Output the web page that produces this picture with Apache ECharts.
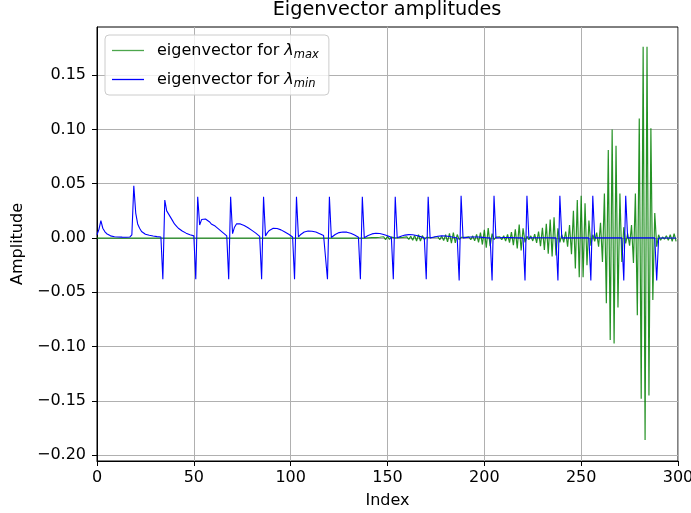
<!DOCTYPE html>
<html>
<head>
<meta charset="utf-8">
<script src="https://cdn.jsdelivr.net/npm/echarts@6/dist/echarts.min.js"></script>
<style>
  html, body { margin: 0; padding: 0; background: #ffffff; }
  #chart { width: 691px; height: 513px; }
</style>
</head>
<body>
<div id="chart"></div>
<script>
// Tick positions on both axes
const xTicks = [0, 50, 100, 150, 200, 250, 300];
const yTicks = [-0.20, -0.15, -0.10, -0.05, 0.00, 0.05, 0.10, 0.15];

// Eigenvector belonging to the largest eigenvalue (entries 0..299)
const maxVec = [
  0, 0, 0, 0, 0, 0, 0, 0, 0, 0,
  0, 0, 0, 0, 0, 0, 0, 0, 0, 0,
  0, 0, 0, 0, 0, 0, 0, 0, 0, 0,
  0, 0, 0, 0, 0, 0, 0, 0, 0, 0,
  0, 0, 0, 0, 0, 0, 0, 0, 0, 0,
  0, 0, 0, 0, 0, 0, 0, 0, 0, 0,
  0, 0, 0, 0, 0, 0, 0, 0, 0, 0,
  0, 0, 0, 0, 0, 0, 0, 0, 0, 0,
  0, 0, 0, 0, 0, 0, 0, 0, 0, 0,
  0, 0, 0, 0, 0, 0, 0, 0, 0, 0,
  0, 0, 0, 0, 0, 0, 0, 0, 0, 0,
  0, 0, 0, 0, 0, 0, 0, 0, 0, 0,
  0, 0, 0, 0, 0, 0, 0, 0, 0, 0,
  0, 0, 0, 0, 0, 0, 0, 0, 0, 0,
  0.0002, -0.0002, 0.0003, -0.0003, 0.0004, -0.0005, 0.0007, -0.0009, 0.0012, -0.0015,
  0.0015, -0.0012, 0.0008, -0.0004, 0.0002, -0.0002, 0.0003, -0.0004, 0.0006, -0.0008,
  0.001, -0.0013, 0.0016, -0.002, 0.0024, -0.0028, 0.003, -0.0028, 0.0022, -0.0014,
  0.0007, -0.0003, 0.0004, -0.0005, 0.0007, -0.0009, 0.0012, -0.0015, 0.0019, -0.0024,
  0.003, -0.0036, 0.0043, -0.0048, 0.005, -0.0045, 0.0032, -0.0015, 0.0006, -0.0005,
  0.0007, -0.0009, 0.0012, -0.0016, 0.002, -0.0026, 0.0033, -0.0041, 0.005, -0.006,
  0.0075, -0.0088, 0.0092, -0.0075, 0.004, -0.0015, 0.0008, -0.0009, 0.0012, -0.0016,
  0.0021, -0.0027, 0.0034, -0.0043, 0.0054, -0.0066, 0.008, -0.0095, 0.0125, -0.0115,
  0.009, -0.004, 0.0015, -0.0015, 0.002, -0.0027, 0.0035, -0.0045, 0.006, -0.0075,
  0.0095, -0.011, 0.013, -0.0145, 0.017, -0.017, 0.019, -0.016, 0.009, -0.004,
  0.003, -0.004, 0.006, -0.008, 0.012, -0.015, 0.025, -0.028, 0.035, -0.036,
  0.039, -0.036, 0.032, -0.025, 0.016, -0.007, 0.003, -0.003, 0.005, -0.008,
  0.014, -0.022, 0.041, -0.060, 0.081, -0.094, 0.100, -0.097, 0.085, -0.064,
  0.041, -0.022, 0.010, -0.005, 0.004, -0.007, 0.012, -0.023, 0.041, -0.071,
  0.110, -0.148, 0.176, -0.186, 0.176, -0.145, 0.101, -0.057, 0.023, -0.008,
  0.003, -0.002, 0.001, -0.001, 0.002, -0.002, 0.003, -0.003, 0.004, -0.003
];

// Eigenvector belonging to the smallest eigenvalue (entries 0..299)
const minVec = [
  0.003, 0.008, 0.016, 0.009, 0.006, 0.004, 0.003, 0.002, 0.0015, 0.0012,
  0.001, 0.001, 0.0008, 0.0008, 0.0007, 0.0007, 0.0006, 0.001, 0.003, 0.048,
  0.023, 0.013, 0.009, 0.006, 0.0045, 0.0035, 0.003, 0.0025, 0.002, 0.0018,
  0.0015, 0.0013, 0.0012, 0.001, -0.038, 0.035, 0.025, 0.024, 0.019, 0.016,
  0.013, 0.011, 0.009, 0.008, 0.0065, 0.0055, 0.0045, 0.004, 0.003, 0.0025,
  0.002, -0.038, 0.038, 0.012, 0.017, 0.018, 0.0175, 0.016, 0.015, 0.013,
  0.012, 0.011, 0.0095, 0.008, 0.0065, 0.005, 0.0035, 0.002, -0.038, 0.038,
  0.004, 0.010, 0.013, 0.0135, 0.013, 0.0125, 0.0115, 0.0105, 0.0095, 0.0085,
  0.007, 0.006, 0.0045, 0.003, 0.0015, -0.038, 0.038, 0.002, 0.005, 0.007,
  0.0085, 0.009, 0.009, 0.0088, 0.0082, 0.0075, 0.0065, 0.0055, 0.0045, 0.0035,
  0.0022, 0.001, -0.038, 0.038, 0.001, 0.003, 0.0045, 0.0055, 0.0062, 0.0065,
  0.0065, 0.0063, 0.006, 0.0055, 0.0048, 0.004, 0.0032, 0.0023, 0.0012, -0.038,
  0.038, 0.0005, 0.002, 0.0033, 0.0043, 0.005, 0.0054, 0.0056, 0.0056, 0.0054,
  0.005, 0.0044, 0.0037, 0.0028, 0.0018, 0.0008, -0.038, 0.038, 0.0003, 0.0014,
  0.0024, 0.0032, 0.0038, 0.0042, 0.0044, 0.0044, 0.0042, 0.0038, 0.0033, 0.0027,
  0.002, 0.0013, 0.0006, -0.038, 0.038, 0.0002, 0.001, 0.0017, 0.0023, 0.0027,
  0.003, 0.0031, 0.0031, 0.003, 0.0027, 0.0023, 0.0018, 0.0013, 0.0008, 0.0003,
  -0.038, 0.038, 0.0001, 0.0006, 0.001, 0.0014, 0.0017, 0.0019, 0.002, 0.002,
  0.0019, 0.0017, 0.0014, 0.001, 0.0007, 0.0004, 0.0001, -0.039, 0.039, 0.0001,
  0.0003, 0.0005, 0.0007, 0.0009, 0.001, 0.001, 0.001, 0.0009, 0.0008, 0.0006,
  0.0005, 0.0003, 0.0002, 0.0001, -0.039, 0.039, 0.0001, 0.0002, 0.0003, 0.0004,
  0.0005, 0.0005, 0.0005, 0.0005, 0.0004, 0.0004, 0.0003, 0.0002, 0.0001, 0.0001,
  0.0001, -0.039, 0.039, 0.0001, 0.0002, 0.0002, 0.0003, 0.0003, 0.0003, 0.0003,
  0.0003, 0.0002, 0.0002, 0.0002, 0.0001, 0.0001, 0.0001, 0.0001, -0.039, 0.039,
  0.0001, 0.0001, 0.0001, 0.0001, 0.0001, 0.0001, 0.0001, 0.0001, 0.0001, 0.0001,
  0.0001, 0.0001, 0.0001, 0.0001, 0.0001, -0.039, 0.039, 0.0001, 0.0001, 0.0001,
  0.0001, 0.0001, 0.0001, 0.0001, 0.0001, 0.0001, 0.0001, 0.0001, 0.0001, 0.0001,
  0.0001, 0.0001, -0.039, 0.039, 0.0001, 0.0001, 0.0001, 0.0001, 0.0001, 0.0001,
  0.0001, 0.0001, 0.0001, 0.0001, 0.0001, 0.0001, 0.0001, 0.0001, 0.0001, -0.039,
  0, 0, 0, 0, 0, 0, 0, 0, 0, 0
];

const FONT = 'DejaVu Sans';
const toPairs = arr => arr.map((v, i) => [i, v]);
const fmtY = v => {
  if (Math.abs(v) < 1e-9) return '0.00';
  return (v < 0 ? '\u2212' : '') + Math.abs(v).toFixed(2);
};

const chart = echarts.init(document.getElementById('chart'), null, { renderer: 'canvas' });

chart.setOption({
  animation: false,
  backgroundColor: '#ffffff',
  title: {
    text: 'Eigenvector amplitudes',
    left: 387, textAlign: 'center',
    top: 0,
    padding: 0,
    textStyle: { fontFamily: FONT, fontSize: 19.3, fontWeight: 'normal', color: '#000' }
  },
  grid: {
    left: 97, right: 13, top: 27, bottom: 52,
    outerBoundsMode: 'none',
    containLabel: false,
    show: true, borderColor: '#000', borderWidth: 1, backgroundColor: 'transparent'
  },
  legend: {
    left: 105, top: 35,
    orient: 'vertical',
    icon: 'rect',
    itemWidth: 32, itemHeight: 1.3,
    itemGap: 8,
    padding: [5, 10, 5, 7],
    backgroundColor: 'rgba(255,255,255,0.8)',
    borderColor: '#cccccc', borderWidth: 1, borderRadius: 4,
    data: [
      { name: 'max', itemStyle: { color: 'rgba(0,128,0,0.7)' } },
      { name: 'min', itemStyle: { color: '#0000ff' } }
    ],
    formatter: name => 'eigenvector for {l|\u03bb}{s|' + name + '}',
    textStyle: {
      fontFamily: FONT, fontSize: 16, color: '#000', lineHeight: 21,
      padding: [0, 0, 0, 8],
      rich: {
        l: { fontFamily: FONT, fontSize: 16, fontStyle: 'italic', color: '#000', lineHeight: 21 },
        s: { fontFamily: FONT, fontSize: 11.5, fontStyle: 'italic', color: '#000', lineHeight: 13, verticalAlign: 'bottom' }
      }
    }
  },
  xAxis: {
    type: 'value',
    min: xTicks[0], max: xTicks[xTicks.length - 1], interval: 50,
    name: 'Index', nameLocation: 'middle', nameGap: 32,
    nameTextStyle: { fontFamily: FONT, fontSize: 16, color: '#000' },
    axisLine: { show: true, onZero: false, lineStyle: { color: '#000', width: 1 } },
    axisTick: { show: true, length: 5, lineStyle: { color: '#000', width: 1 } },
    axisLabel: { fontFamily: FONT, fontSize: 16, color: '#000', margin: 9 },
    splitLine: { show: true, lineStyle: { color: '#b0b0b0', width: 1 } }
  },
  yAxis: {
    type: 'value',
    min: -0.2053, max: 0.1943, splitNumber: 8,
    name: 'Amplitude', nameLocation: 'middle', nameGap: 66,
    nameTextStyle: { fontFamily: FONT, fontSize: 16, color: '#000' },
    axisLine: { show: true, onZero: false, lineStyle: { color: '#000', width: 1 } },
    axisTick: { show: true, length: 5, customValues: yTicks, lineStyle: { color: '#000', width: 1 } },
    axisLabel: {
      fontFamily: FONT, fontSize: 16, color: '#000', margin: 11,
      customValues: yTicks, formatter: fmtY
    },
    splitLine: { show: true, lineStyle: { color: '#b0b0b0', width: 1 } }
  },
  series: [
    {
      name: 'max', type: 'line', data: toPairs(maxVec),
      showSymbol: false, symbol: 'none',
      lineStyle: { color: '#008000', width: 1.2, opacity: 0.85 },
      itemStyle: { color: '#008000' },
      z: 2
    },
    {
      name: 'min', type: 'line', data: toPairs(minVec),
      showSymbol: false, symbol: 'none',
      lineStyle: { color: '#0000ff', width: 1.1, opacity: 1 },
      itemStyle: { color: '#0000ff' },
      z: 3
    }
  ]
});
</script>
</body>
</html>
